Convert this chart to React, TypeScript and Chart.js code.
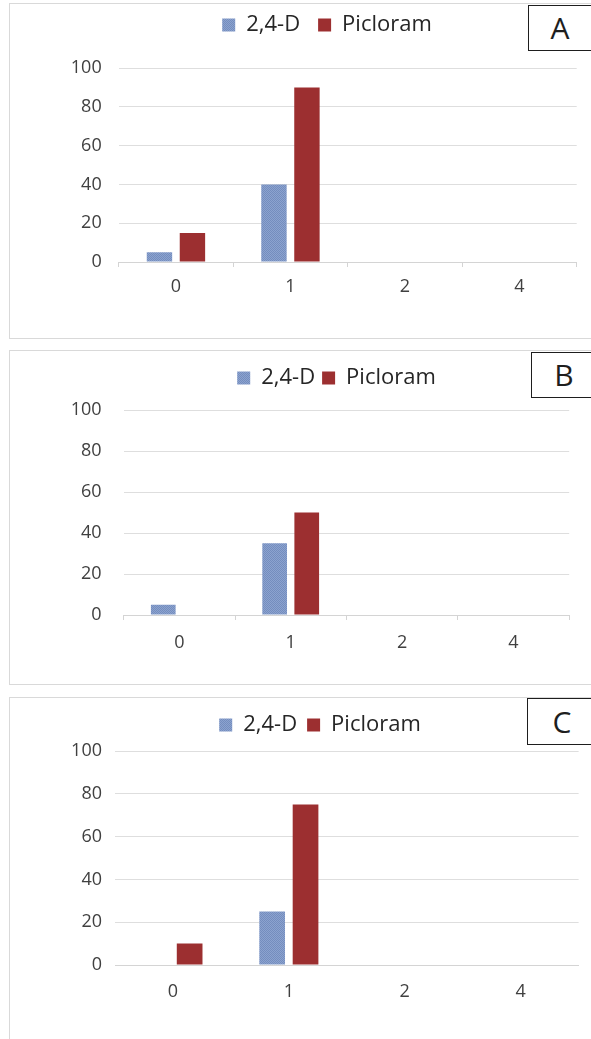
import React, { useEffect, useRef } from 'react';
import { Chart, registerables } from 'chart.js';

Chart.register(...registerables);

// ---- data ----
const categories = ['0', '1', '2', '4'];
const seriesNames = ['2,4-D', 'Picloram'];
const yTicks = [0, 20, 40, 60, 80, 100];

const panelA_24D = [5, 40, 0, 0];
const panelA_Picloram = [15, 90, 0, 0];

const panelB_24D = [5, 35, 0, 0];
const panelB_Picloram = [0, 50, 0, 0];

const panelC_24D = [0, 25, 0, 0];
const panelC_Picloram = [10, 75, 0, 0];

const panelLetters = ['A', 'B', 'C'];

// ---- layout (positions only) ----
type Cfg = {
  top: number; h: number; w: number; yw: number; rw: number; yPad: number;
  lp: number; spacer: number; xTicks: boolean; xPad: number;
  frameTop: number; frameH: number;
  boxLeft: number; boxTop: number; boxH: number; letterX: number;
};

const cfgs: Cfg[] = [
  { top: -4, h: 316, w: 654, yw: 118.7, rw: 77.3, yPad: 17, lp: 18, spacer: 22, xTicks: true, xPad: 9,
    frameTop: 3, frameH: 336, boxLeft: 528, boxTop: 5, boxH: 46, letterX: 559 },
  { top: 360, h: 305, w: 673, yw: 123.6, rw: 103.8, yPad: 22, lp: 7, spacer: 11, xTicks: true, xPad: 12,
    frameTop: 350, frameH: 335, boxLeft: 531, boxTop: 352, boxH: 46, letterX: 563 },
  { top: 704, h: 311, w: 640, yw: 115, rw: 61.4, yPad: 13, lp: 10, spacer: 5, xTicks: false, xPad: 16,
    frameTop: 697, frameH: 400, boxLeft: 527, boxTop: 698, boxH: 47, letterX: 561 },
];

const FONT = "'Open Sans', 'DejaVu Sans', sans-serif";

function BarPanel({ cfg, d24, dPic }: { cfg: Cfg; d24: number[]; dPic: number[] }) {
  const ref = useRef<HTMLCanvasElement>(null);
  useEffect(() => {
    const canvas = ref.current!;
    const pc = document.createElement('canvas');
    pc.width = 2; pc.height = 2;
    const g = pc.getContext('2d')!;
    g.fillStyle = '#8ca3cf'; g.fillRect(0, 0, 2, 2);
    g.fillStyle = '#748dbe'; g.fillRect(0, 0, 1, 1); g.fillRect(1, 1, 1, 1);
    const ctx = canvas.getContext('2d')!;
    const pattern = ctx.createPattern(pc, 'repeat') as any;

    const chart = new Chart(canvas, {
      type: 'bar',
      data: {
        labels: categories,
        datasets: [
          { label: seriesNames[0], data: d24, backgroundColor: pattern, borderWidth: 0,
            categoryPercentage: 0.576, barPercentage: 0.77 },
          { label: seriesNames[1], data: dPic, backgroundColor: '#9c2f30', borderWidth: 0,
            categoryPercentage: 0.576, barPercentage: 0.77 },
        ],
      },
      options: {
        responsive: false,
        animation: false,
        font: { family: FONT },
        layout: { padding: 0 },
        plugins: {
          legend: {
            position: 'top',
            labels: { boxWidth: 13, boxHeight: 13, padding: cfg.lp, color: '#262626',
              font: { size: 22, family: FONT } },
          },
          subtitle: {
            display: true, text: '', position: 'top', weight: 500,
            font: { size: 1, lineHeight: 1 }, padding: { top: 0, bottom: cfg.spacer - 1 },
          },
          title: { display: false },
          tooltip: { enabled: false },
        },
        scales: {
          x: {
            grid: { drawOnChartArea: false, drawTicks: cfg.xTicks, tickLength: 5, color: '#d4d4d4' },
            border: { color: '#d4d4d4' },
            ticks: { padding: cfg.xPad, color: '#404040', font: { size: 18, family: FONT } },
            afterFit: (s: any) => { s.height = 50; },
          },
          y: {
            min: 0, max: 100,
            afterBuildTicks: (s: any) => { s.ticks = yTicks.map((v) => ({ value: v })); },
            ticks: { padding: cfg.yPad, color: '#404040', font: { size: 18, family: FONT } },
            grid: { color: '#dedede', drawTicks: false },
            border: { display: false },
            afterFit: (s: any) => { s.width = cfg.yw; },
          },
          yRightSpace: {
            type: 'linear', position: 'right', display: true,
            grid: { display: false, drawTicks: false }, ticks: { display: false }, border: { display: false },
            afterFit: (s: any) => { s.width = cfg.rw; },
          },
        },
      } as any,
    });
    return () => chart.destroy();
  }, []);
  return (
    <canvas ref={ref} width={cfg.w} height={cfg.h}
      style={{ position: 'absolute', left: 0, top: cfg.top, width: cfg.w, height: cfg.h }} />
  );
}

export default function App() {
  const data = [
    [panelA_24D, panelA_Picloram],
    [panelB_24D, panelB_Picloram],
    [panelC_24D, panelC_Picloram],
  ];
  return (
    <div style={{ position: 'absolute', left: 0, top: 0, width: 591, height: 1039, overflow: 'hidden', background: '#fff' }}>
      {cfgs.map((c, i) => (
        <div key={'f' + i} style={{ position: 'absolute', left: 9, top: c.frameTop, width: 700, height: c.frameH,
          border: '1px solid #d9d9d9', boxSizing: 'border-box' }} />
      ))}
      {cfgs.map((c, i) => (
        <BarPanel key={'c' + i} cfg={c} d24={data[i][0]} dPic={data[i][1]} />
      ))}
      {cfgs.map((c, i) => (
        <div key={'b' + i} style={{ position: 'absolute', left: c.boxLeft, top: c.boxTop, width: 200, height: c.boxH,
          border: '1.5px solid #1e1e1e', boxSizing: 'border-box', background: '#fff' }}>
          <span style={{ position: 'absolute', left: c.letterX - c.boxLeft, top: '50%', transform: 'translate(-50%, -50%)',
            fontFamily: FONT, fontSize: 30, lineHeight: 1, color: '#1e1e1e' }}>{panelLetters[i]}</span>
        </div>
      ))}
    </div>
  );
}
